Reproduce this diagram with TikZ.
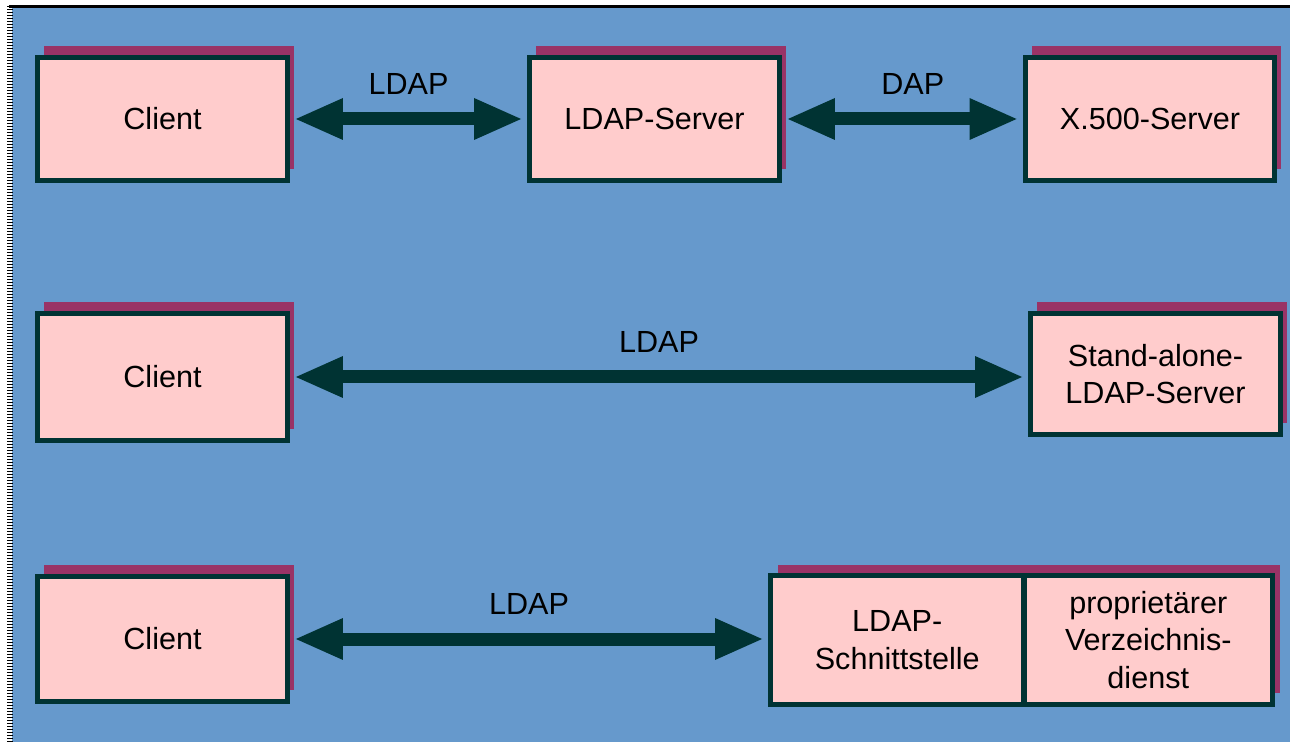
\documentclass[tikz,border=0pt]{standalone}
\usepackage{fontspec}
\setmainfont{Liberation Sans}
\usetikzlibrary{arrows.meta,shadows,backgrounds}
\definecolor{bgblue}{HTML}{6699CC}
\definecolor{boxpink}{HTML}{FFCCCC}
\definecolor{boxline}{HTML}{003333}
\definecolor{shadowc}{HTML}{993366}
\begin{document}
\begin{tikzpicture}[x=0.02cm,y=-0.02cm,
  font=\fontsize{17.4pt}{21.5pt}\selectfont,
  boxbase/.style={draw=boxline, fill=boxpink, line width=0.1cm, inner sep=0pt,
    outer sep=0pt, align=center, text=black},
  sbox/.style={boxbase, minimum width=5cm,
    general shadow={fill=shadowc, shadow xshift=0.13cm, shadow yshift=0.23cm}},
  biarrow/.style={draw=boxline, line width=0.26cm,
    {Triangle[length=0.94cm,width=0.84cm,line width=0pt]}-{Triangle[length=0.94cm,width=0.84cm,line width=0pt]},
    shorten <=0.17cm, shorten >=0.17cm},
  lbl/.style={midway, yshift=20pt, inner sep=0pt, text=black}]
\useasboundingbox (0,0) rectangle (1290,742);
\begin{pgfonlayer}{background}
\fill[white] (0,0) rectangle (1290,742);
\fill[bgblue] (12,7) rectangle (1290,742);
\draw[black, line width=0.06cm] (9,6.5) -- (1290,6.5);
\draw[black, line width=0.12cm, dash pattern=on 0.03cm off 0.03cm] (10,6) -- (10,742);
\end{pgfonlayer}

% row 1
\node[sbox, minimum height=2.46cm] (c1) at (162.5,119) {Client};
\node[sbox, minimum height=2.46cm] (ls) at (654.5,119) {LDAP-Server};
\node[sbox, minimum height=2.46cm] (xs) at (1150,119) {X.500-Server};
\draw[biarrow] (c1.east) -- (ls.west) node[lbl] {LDAP};
\draw[biarrow] (ls.east) -- (xs.west) node[lbl, xshift=6pt] {DAP};

% row 2
\node[sbox, minimum height=2.54cm] (c2) at (162.5,377) {Client};
\node[sbox, minimum height=2.44cm] (sa) at (1155.5,374) {Stand-alone-\\LDAP-Server};
\draw[biarrow] (c2.east) -- (c2.east -| sa.west) node[lbl] {LDAP};

% row 3
\node[sbox, minimum height=2.52cm] (c3) at (162.5,639) {Client};
\node[boxbase, minimum width=5.07cm, minimum height=2.58cm] (li) at (897.25,640) {LDAP-\\Schnittstelle};
\node[boxbase, minimum width=4.97cm, minimum height=2.58cm] (pv) at (1148.25,640) {proprietärer\\Verzeichnis-\\dienst};
\begin{pgfonlayer}{background}
\fill[shadowc] ([shift={(7,-11)}]li.south west) rectangle ([shift={(8,-11)}]pv.north east);
\end{pgfonlayer}
\draw[biarrow] (c3.east) -- (c3.east -| li.west) node[lbl] {LDAP};
\end{tikzpicture}
\end{document}
